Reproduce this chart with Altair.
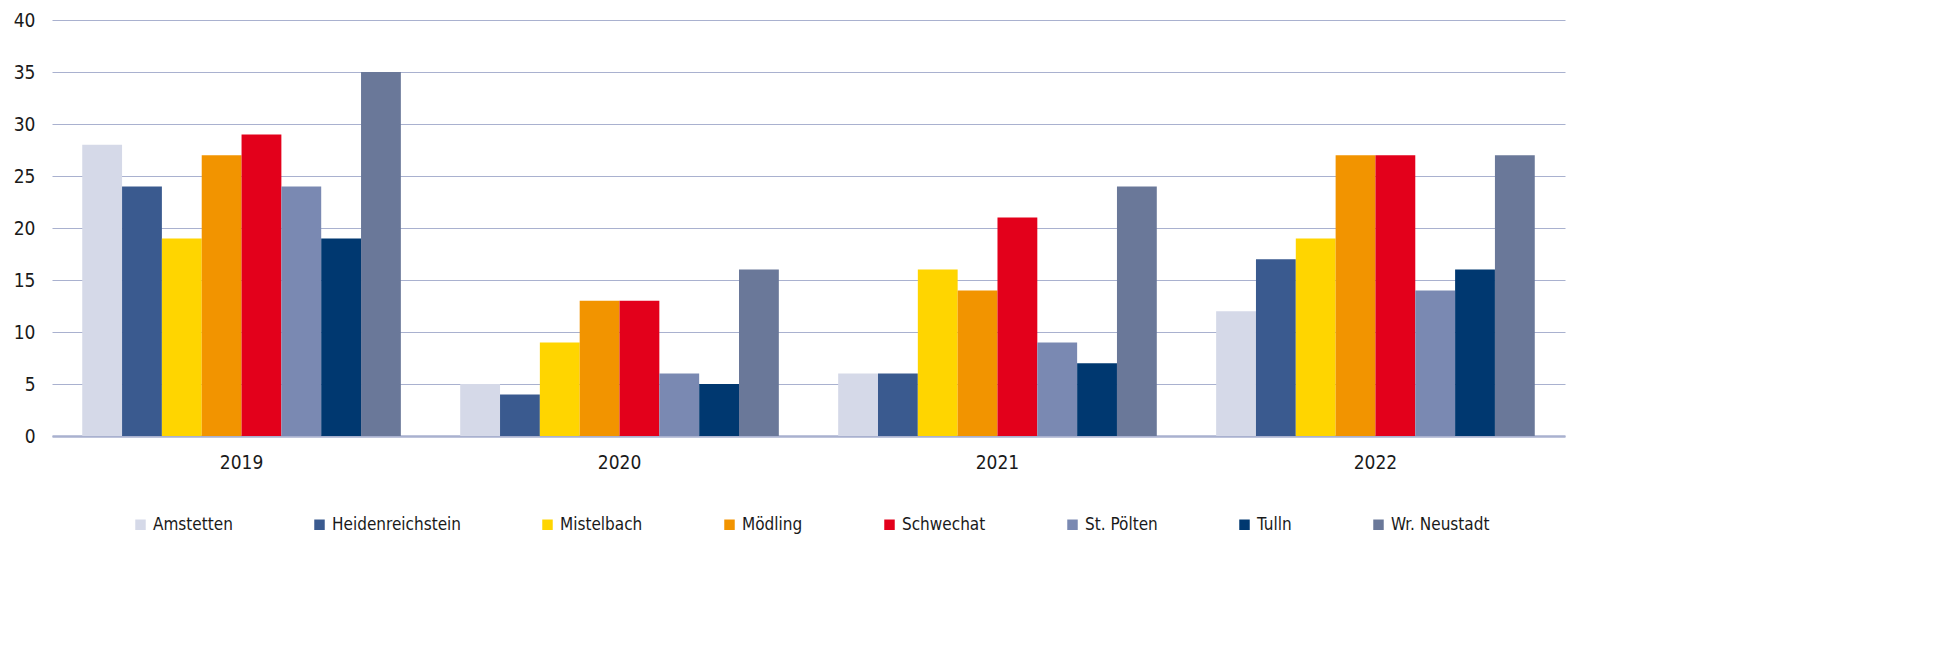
import altair as alt
import pandas as pd

years = ["2019", "2020", "2021", "2022"]
series = ["Amstetten", "Heidenreichstein", "Mistelbach", "Mödling",
          "Schwechat", "St. Pölten", "Tulln", "Wr. Neustadt"]
colors = ["#D5D9E8", "#3A5A8F", "#FFD500", "#F29400",
          "#E3001B", "#7A89B2", "#003870", "#6A7899"]

values_2019 = [28, 24, 19, 27, 29, 24, 19, 35]
values_2020 = [5, 4, 9, 13, 13, 6, 5, 16]
values_2021 = [6, 6, 16, 14, 21, 9, 7, 24]
values_2022 = [12, 17, 19, 27, 27, 14, 16, 27]

rows = []
for y, vals in zip(years, [values_2019, values_2020, values_2021, values_2022]):
    for s, v in zip(series, vals):
        rows.append({"Jahr": y, "Bezirk": s, "Wert": v})
df = pd.DataFrame(rows)

FONT = "'Liberation Sans Narrow', 'DejaVu Sans Condensed', Roboto, sans-serif"
GRID = "#A9B1CF"

chart = alt.Chart(df).mark_bar().encode(
    x=alt.X("Jahr:N", sort=years, title=None,
            scale=alt.Scale(paddingInner=0.157, paddingOuter=0.08),
            axis=alt.Axis(labelAngle=0, ticks=False, labelPadding=17,
                          domainColor=GRID, domainWidth=2.5,
                          labelFont=FONT, labelFontSize=19, labelColor="#1a1a1a")),
    xOffset=alt.XOffset("Bezirk:N", sort=series,
                        scale=alt.Scale(paddingInner=0, paddingOuter=0)),
    y=alt.Y("Wert:Q", title=None,
            scale=alt.Scale(domain=[0, 40]),
            axis=alt.Axis(values=list(range(0, 41, 5)), ticks=False, domain=False,
                          labelPadding=17, gridColor=GRID, gridWidth=1,
                          labelFont=FONT, labelFontSize=19, labelColor="#1a1a1a")),
    color=alt.Color("Bezirk:N",
                    scale=alt.Scale(domain=series, range=colors),
                    legend=alt.Legend(orient="none", direction="horizontal",
                                      columns=8, legendX=80, legendY=496,
                                      title=None, symbolType="square",
                                      symbolSize=110, symbolStrokeWidth=0,
                                      labelFont=FONT, labelFontSize=17,
                                      labelColor="#1a1a1a", labelOffset=4,
                                      columnPadding=78, labelLimit=300)),
).properties(
    width=1513, height=416,
    padding={"left": 5, "top": 3, "right": 5, "bottom": 5},
).configure_view(stroke=None)

chart.save("out.html", embed_options={"renderer": "svg", "actions": False})
